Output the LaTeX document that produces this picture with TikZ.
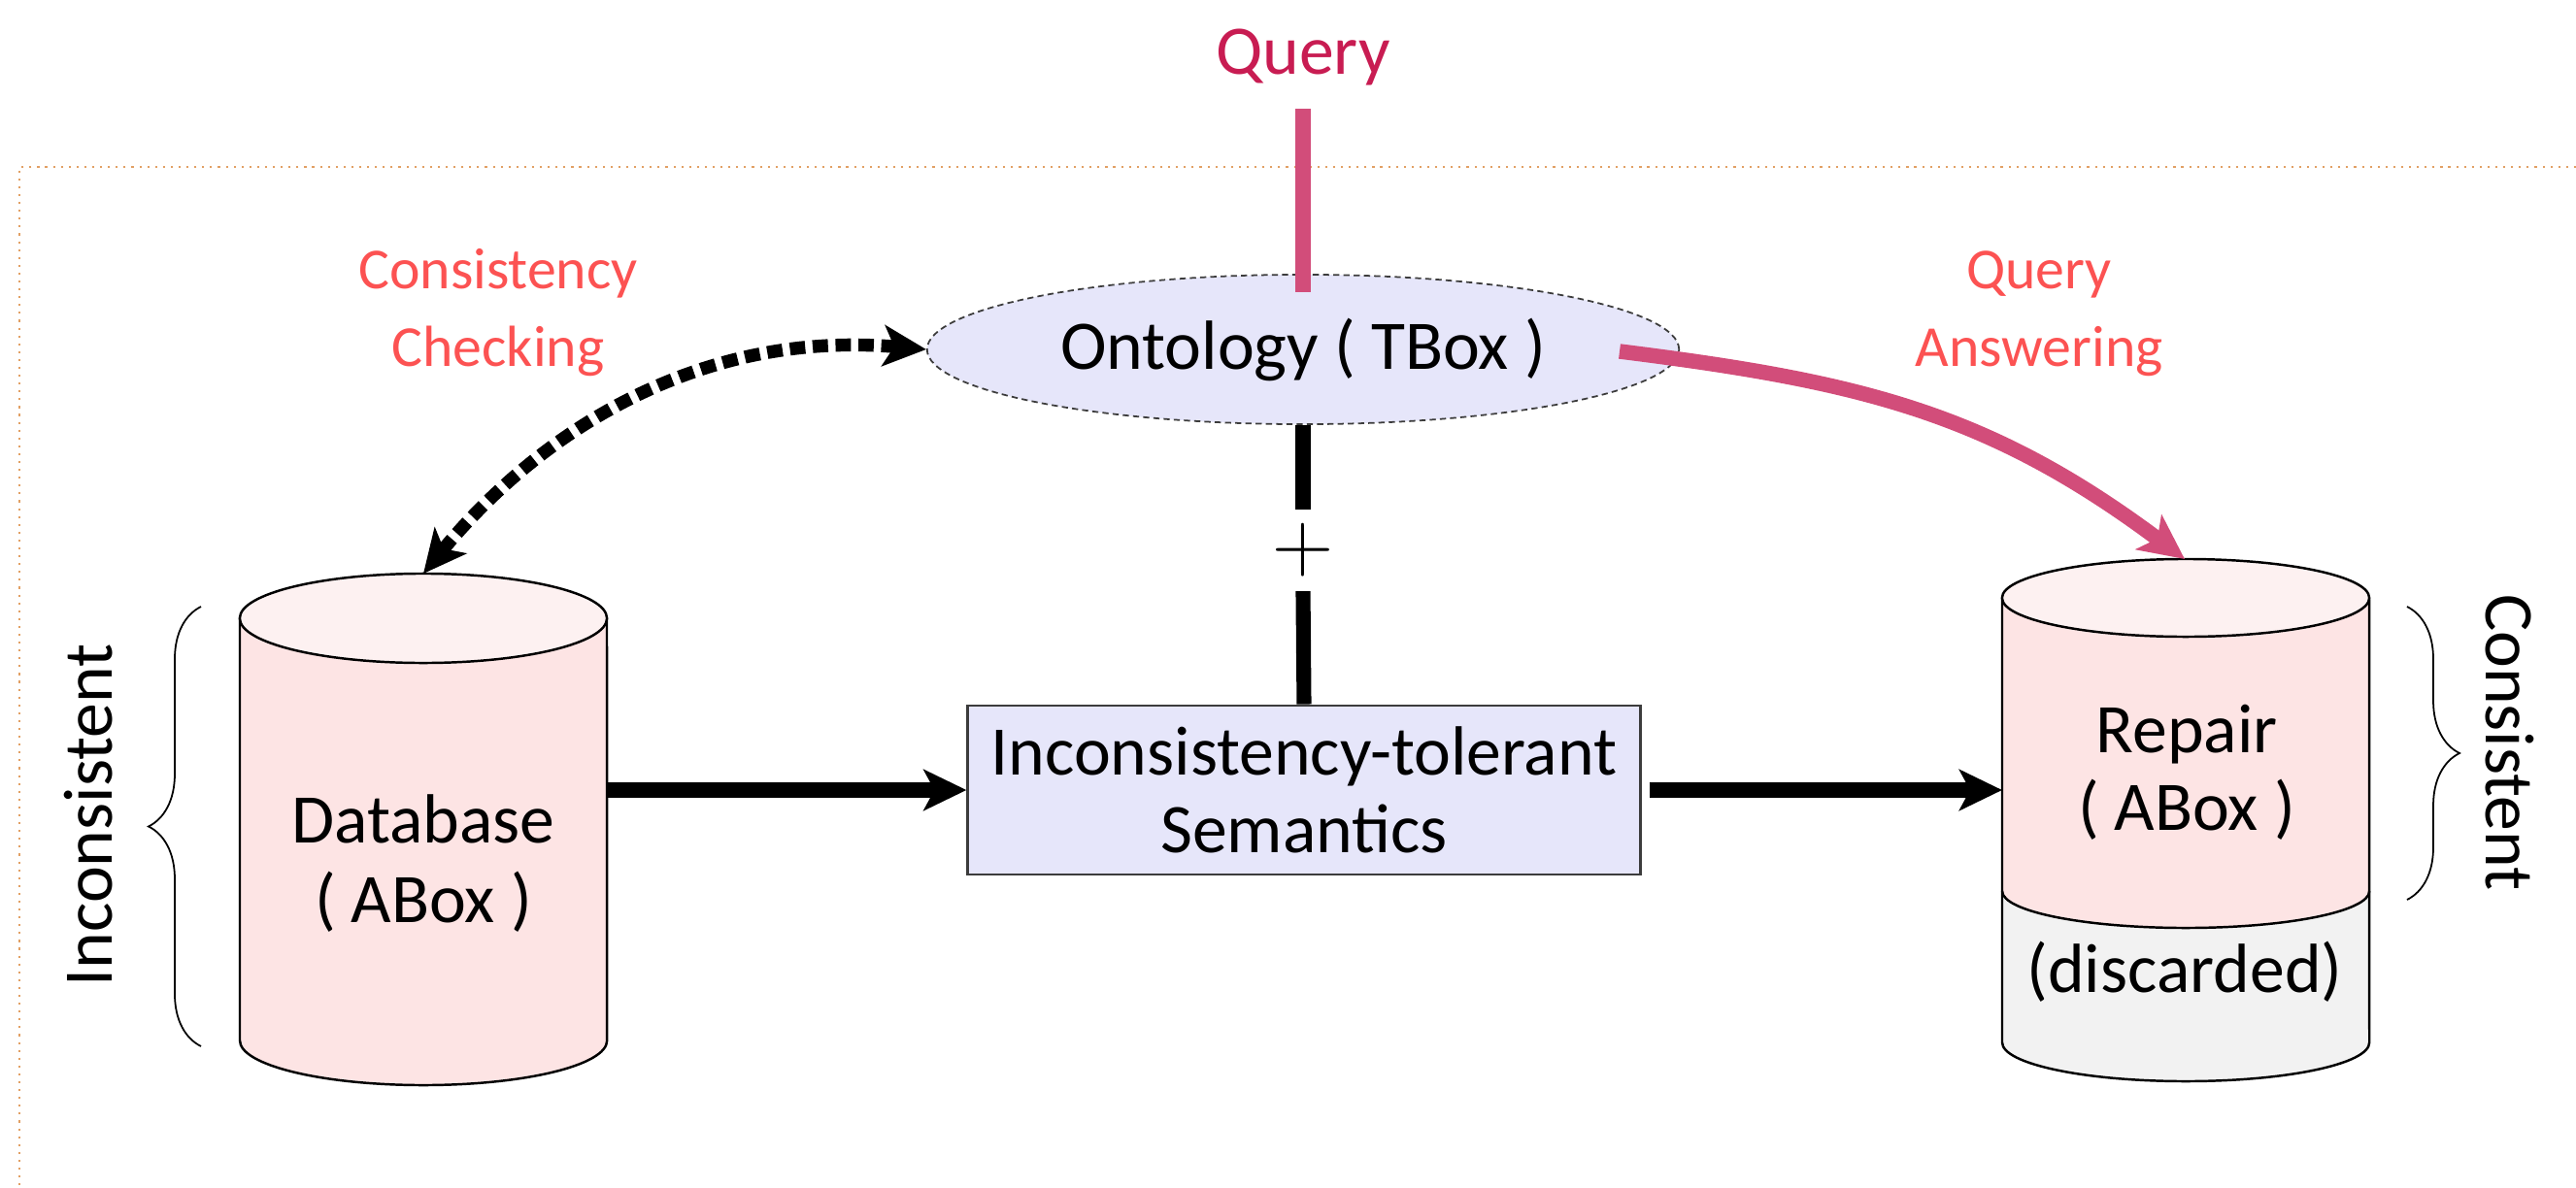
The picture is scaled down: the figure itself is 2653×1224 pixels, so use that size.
\documentclass[tikz,border=0pt]{standalone}
\usepackage{fontspec}
\setmainfont{Carlito}
\usetikzlibrary{arrows.meta,shapes.geometric,decorations.pathreplacing}

\definecolor{qcrimson}{RGB}{200,28,82}
\definecolor{qpink}{RGB}{210,77,122}
\definecolor{coral}{RGB}{252,82,82}
\definecolor{lav}{RGB}{230,230,250}
\definecolor{cylpink}{RGB}{253,228,228}
\definecolor{cyltop}{RGB}{253,241,241}
\definecolor{cylgray}{RGB}{242,242,242}
\definecolor{framec}{RGB}{226,160,100}
\definecolor{edgegray}{RGB}{60,60,60}

\begin{document}
\begin{tikzpicture}[x=0.01cm, y=-0.01cm,
  txt/.style={font=\fontsize{20.4pt}{22.7pt}\selectfont, inner sep=0pt},
  lbl/.style={font=\fontsize{17pt}{19pt}\selectfont, inner sep=0pt, text=coral, anchor=base},
  cyledge/.style={draw=black, line width=0.7pt},
  blkline/.style={draw=black, line width=4.3pt},
  blkarrow/.style={draw=black, line width=4.3pt, -{Stealth[length=4.4mm,width=4.2mm,inset=1.1mm]}},
  pinkarrow/.style={draw=qpink, line width=4.4pt, -{Stealth[length=4.6mm,width=4.4mm,inset=1.1mm]}},
  dasharrow/.style={draw=black, line width=3.8pt, dash pattern=on 4.5pt off 2.2pt,
     {Stealth[length=4.4mm,width=4.2mm,inset=1.1mm]}-{Stealth[length=4.4mm,width=4.2mm,inset=1.1mm]}},
  bracestyle/.style={draw=black, line width=0.5pt, decorate, decoration={brace, amplitude=5.4mm}}
]
\useasboundingbox (0,0) rectangle (2653,1224);

% frame
\draw[framec, line width=0.6pt, dash pattern=on 0.6pt off 1.7pt] (2653,172) -- (20,172) -- (20,1224);

% left cylinder (Database)
\fill[cylpink] (247,637) -- (247,1072) arc[start angle=180,end angle=360,x radius=1.89cm,y radius=0.46cm] -- (625,637) -- cycle;
\draw[cyledge] (247,637) -- (247,1072) arc[start angle=180,end angle=360,x radius=1.89cm,y radius=0.46cm] -- (625,637);
\draw[cyledge, fill=cyltop] (436,637) ellipse[x radius=1.89cm, y radius=0.46cm];
\node[txt, anchor=base] (dbA) at (436,868) {Database};
\node[txt, anchor=base] (dbB) at (436,950) {( ABox )};

% right cylinder (Repair)
\fill[cylgray] (2062,918) arc[start angle=180,end angle=360,x radius=1.89cm,y radius=0.38cm] -- (2440,1074) arc[start angle=0,end angle=-180,x radius=1.89cm,y radius=0.40cm] -- cycle;
\fill[cylpink] (2062,616) -- (2062,918) arc[start angle=180,end angle=360,x radius=1.89cm,y radius=0.38cm] -- (2440,616) -- cycle;
\draw[cyledge] (2062,616) -- (2062,1074) arc[start angle=180,end angle=360,x radius=1.89cm,y radius=0.40cm] -- (2440,616);
\draw[cyledge] (2062,918) arc[start angle=180,end angle=360,x radius=1.89cm,y radius=0.38cm];
\draw[cyledge, fill=cyltop] (2251,616) ellipse[x radius=1.89cm, y radius=0.40cm];
\node[txt, anchor=base] (repA) at (2252,775) {Repair};
\node[txt, anchor=base] (repB) at (2252,855) {( ABox )};
\node[txt, anchor=base] (repC) at (2250,1022) {(discarded)};

% ontology ellipse
\node[ellipse, draw=edgegray, line width=0.5pt, dash pattern=on 1.8pt off 1.2pt, fill=lav,
      minimum width=7.74cm, minimum height=1.54cm, txt] (onto) at (1342,360) {Ontology ( TBox )};

% semantics box
\node[draw=edgegray, line width=0.8pt, fill=lav, minimum width=6.92cm, minimum height=1.74cm,
      txt, align=center] (sem) at (1343,814) {Inconsistency-tolerant\\Semantics};

% plus sign
\node[font=\fontsize{23.5pt}{24pt}\selectfont, inner xsep=0pt, inner ysep=1.4mm] (plus) at (1342,567) {$+$};

% query
\node[txt, text=qcrimson, anchor=base] (query) at (1342,77) {Query};
\coordinate (qtop) at (1342,112);
\coordinate (qbot) at (1342,301);
\draw[draw=qpink, line width=4.3pt] (qtop) -- (qbot);

% vertical black line
\draw[blkline] (onto.south) -- (plus.north);
\draw[blkline] (plus.south) -- (sem.north);

% horizontal arrows
\coordinate (dbE) at (625,814);
\coordinate (repW) at (2062,814);
\draw[blkarrow] (dbE) -- (sem.west);
\draw[blkarrow, shorten <=0.8mm] (sem.east) -- (repW);

% query answering arrow
\coordinate (qaS) at (1668,362);
\coordinate (repT) at (2250,576);
\draw[pinkarrow] (qaS) .. controls (1916,393) and (2048,425) .. (repT);

% consistency checking arrow
\coordinate (dbT) at (436,591);
\draw[dasharrow] (dbT) .. controls (560,440) and (725,340) .. (onto.west);

% labels
\node[lbl] (cc1) at (513,297) {Consistency};
\node[lbl] (cc2) at (513,377) {Checking};
\node[lbl] (qa1) at (2100,297) {Query};
\node[lbl] (qa2) at (2100,377) {Answering};

% braces
\coordinate (lbB) at (207,1078);
\coordinate (lbT) at (207,625);
\draw[bracestyle] (lbB) -- (lbT);
\coordinate (rbT) at (2479,625);
\coordinate (rbB) at (2479,927);
\draw[bracestyle] (rbT) -- (rbB);

\node[txt, rotate=90, anchor=base] (incons) at (115,840) {Inconsistent};
\node[txt, rotate=-90, anchor=base] (cons) at (2560,765) {Consistent};
\end{tikzpicture}
\end{document}
